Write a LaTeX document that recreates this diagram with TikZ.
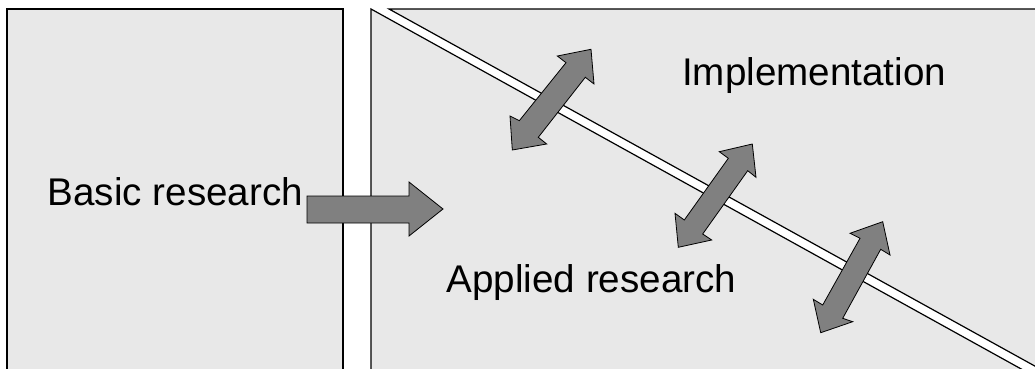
\documentclass[tikz,border=0pt]{standalone}
\usepackage{fontspec}
\setmainfont{Liberation Sans}
\definecolor{panelgray}{HTML}{E8E8E8}
\definecolor{arrowgray}{HTML}{808080}
\tikzset{
  label/.style={font=\fontsize{38.6}{44}\selectfont, inner sep=0pt},
  arrowbox/.style={fill=arrowgray, draw=black, line width=0.8pt, line join=miter},
}
\begin{document}
\begin{tikzpicture}[x=1pt,y=-1pt]
\clip (0,0) rectangle (1035,369);
%\draw[step=50,gray,very thin] (0,0) grid (1035,369); %background grid
\fill[white] (0,0) rectangle (1035,369);
% left panel
\filldraw[fill=panelgray, draw=black, line width=1.2pt] (7,400) -- (7,9) -- (343,9) -- (343,400);
% right panel with the diagonal band
\fill[panelgray] (371,9) rectangle (1050,400);
\fill[white] (370,9) -- (389,9) -- (1089,396) -- (1070,396) -- cycle;
\draw[line width=1.2pt] (371,400) -- (371,9) -- (1070,396);
\draw[line width=1.2pt] (1050,9) -- (389,9) -- (1089,396);
% arrows
\filldraw[arrowbox] (307,196) -- (409,196) -- (409,182) -- (443,209) -- (409,236) -- (409,223) -- (307,223) -- cycle;
\filldraw[arrowbox] (591,49.3) -- (594,84) -- (585.3,77.3) -- (538.3,137.3) -- (546.7,144) -- (512.3,150)
  -- (510,116) -- (519.3,120.7) -- (566,62.7) -- (557.3,56) -- cycle;
\filldraw[arrowbox] (752.3,144) -- (756,177.3) -- (747.7,170.7) -- (702.7,234) -- (711.7,240) -- (678.3,247.3)
  -- (675,213.3) -- (684.3,220) -- (728.3,158.3) -- (719.3,151.7) -- cycle;
\filldraw[arrowbox] (882.7,221.7) -- (890,255) -- (880.7,249.3) -- (842.7,318.3) -- (852.7,321.7) -- (820.7,332.7)
  -- (813.3,299.3) -- (822.7,305) -- (860,238.3) -- (850,233.3) -- cycle;
% labels
\node[label, anchor=base west] (basic) at (47.5,205) {Basic research};
\node[label, anchor=base west] (impl) at (682,85) {Implementation};
\node[label, anchor=base west] (applied) at (446.5,292) {Applied research};
\end{tikzpicture}
\end{document}
